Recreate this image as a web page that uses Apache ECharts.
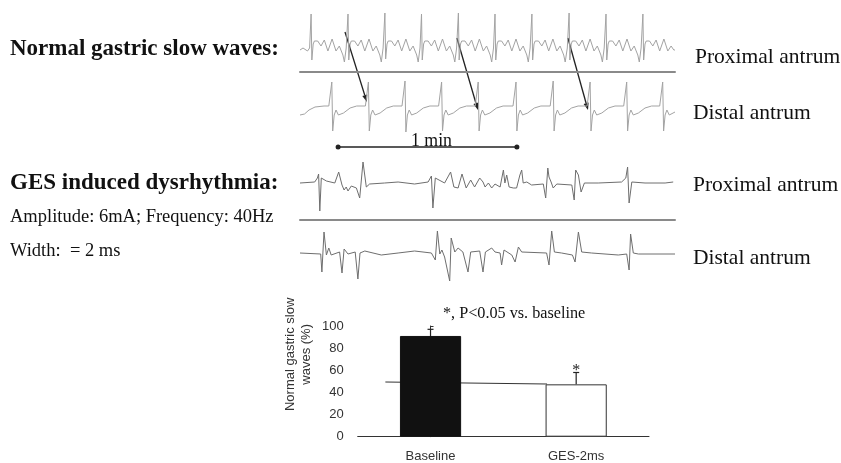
<!DOCTYPE html>
<html>
<head>
<meta charset="utf-8">
<script src="https://cdn.jsdelivr.net/npm/echarts@6/dist/echarts.min.js"></script>
<style>
html,body{margin:0;padding:0;background:#fff;overflow:hidden;}
#chart{width:841px;height:463px;}
</style>
</head>
<body>
<div id="chart"></div>
<script>
// ---------- DATA ----------
// Recordings: [time (s), amplitude (a.u.)]
const normalProximal = [
  [0,-0.5],[1.0,-0.3],[2.5,-0.6],[3.2,-0.3],
  [3.7,3.1],[3.95,-1.5],[4.4,0.1],[4.8,0.4],[5.4,0.2],[5.9,0.4],[7.0,-0.1],[8.1,0.5],[9.3,-0.6],[10.7,0.6],[12.0,-0.6],[13.1,-0.1],[14.3,-1.0],[14.8,-1.7],[15.4,-0.3],
  [16.0,3.1],[16.25,-1.5],[16.7,0.1],[17.1,0.4],[17.7,0.2],[18.2,0.4],[19.3,-0.1],[20.4,0.5],[21.6,-0.6],[23.0,0.6],[24.3,-0.6],[25.4,-0.1],[26.6,-1.0],[27.1,-1.7],[27.7,-0.3],
  [28.3,3.2],[28.55,-1.4],[29.0,0.1],[29.4,0.4],[30.0,0.2],[30.5,0.4],[31.6,-0.1],[32.7,0.5],[33.9,-0.6],[35.3,0.6],[36.6,-0.6],[37.7,-0.1],[38.9,-1.0],[39.4,-1.7],[40.0,-0.3],
  [40.5,3.1],[40.75,-1.5],[41.2,0.1],[41.6,0.4],[42.2,0.2],[42.7,0.4],[43.8,-0.1],[44.9,0.5],[46.1,-0.6],[47.5,0.6],[48.8,-0.6],[49.9,-0.1],[51.1,-1.0],[51.6,-1.7],[52.2,-0.3],
  [52.8,3.2],[53.05,-1.5],[53.5,0.1],[53.9,0.4],[54.5,0.2],[55.0,0.4],[56.1,-0.1],[57.2,0.5],[58.4,-0.6],[59.8,0.6],[61.1,-0.6],[62.2,-0.1],[63.4,-1.0],[63.9,-1.7],[64.5,-0.3],
  [65.0,3.1],[65.25,-1.5],[65.7,0.1],[66.1,0.4],[66.7,0.2],[67.2,0.4],[68.3,-0.1],[69.4,0.5],[70.6,-0.6],[72.0,0.6],[73.3,-0.6],[74.4,-0.1],[75.6,-1.0],[76.1,-1.7],[76.7,-0.3],
  [77.3,3.1],[77.55,-1.5],[78.0,0.1],[78.4,0.4],[79.0,0.2],[79.5,0.4],[80.6,-0.1],[81.7,0.5],[82.9,-0.6],[84.3,0.6],[85.6,-0.6],[86.7,-0.1],[87.9,-1.0],[88.4,-1.7],[89.1,-0.3],
  [89.7,3.2],[89.95,-1.5],[90.4,0.1],[90.8,0.4],[91.4,0.2],[91.9,0.4],[93.0,-0.1],[94.1,0.5],[95.3,-0.6],[96.7,0.6],[98.0,-0.6],[99.1,-0.1],[100.3,-1.0],[100.8,-1.7],[101.4,-0.3],
  [102.0,3.1],[102.25,-1.5],[102.7,0.1],[103.1,0.4],[103.7,0.2],[104.2,0.4],[105.3,-0.1],[106.4,0.5],[107.6,-0.6],[109.0,0.6],[110.3,-0.6],[111.4,-0.1],[112.6,-1.0],[113.1,-1.7],[113.7,-0.3],
  [114.3,3.1],[114.55,-1.5],[115.0,0.1],[115.4,0.4],[116.0,0.2],[116.5,0.4],[117.6,-0.1],[118.7,0.5],[119.9,-0.6],[121.3,0.6],[122.6,-0.6],[123.7,-0.1],[124.6,-0.5],[125,-0.5]
];
const normalDistal = [
  [0,-0.5],[1.5,-0.4],[3.0,0.0],[5.0,0.3],[8.0,0.4],[9.6,0.4],
  [10.6,2.8],[10.9,-2.1],[11.4,-0.5],[12.0,0.0],[12.8,-0.5],[14.5,-0.3],[16.7,0.2],[18.9,0.4],[21.8,0.4],
  [22.8,2.8],[23.1,-2.1],[23.6,-0.5],[24.2,0.0],[25.0,-0.5],[26.7,-0.3],[28.9,0.2],[31.1,0.4],[34.0,0.4],
  [35.0,2.9],[35.3,-2.2],[35.8,-0.5],[36.4,0.0],[37.2,-0.5],[38.9,-0.3],[41.1,0.2],[43.3,0.4],[46.2,0.4],
  [47.2,2.8],[47.5,-2.1],[48.0,-0.5],[48.6,0.0],[49.4,-0.5],[51.1,-0.3],[53.3,0.2],[55.5,0.4],[58.4,0.4],
  [59.4,2.8],[59.7,-2.1],[60.2,-0.5],[60.8,0.0],[61.6,-0.5],[63.3,-0.3],[65.5,0.2],[67.7,0.4],[71.0,0.4],
  [72.0,2.8],[72.3,-2.1],[72.8,-0.5],[73.4,0.0],[74.2,-0.5],[75.9,-0.3],[78.1,0.2],[80.3,0.4],[83.4,0.4],
  [84.4,2.9],[84.7,-2.1],[85.2,-0.5],[85.8,0.0],[86.6,-0.5],[88.3,-0.3],[90.5,0.2],[92.7,0.4],[95.7,0.4],
  [96.7,2.8],[97.0,-2.1],[97.5,-0.5],[98.1,0.0],[98.9,-0.5],[100.6,-0.3],[102.8,0.2],[105.0,0.4],[107.9,0.4],
  [108.9,2.8],[109.2,-2.1],[109.7,-0.5],[110.3,0.0],[111.1,-0.5],[112.8,-0.3],[115.0,0.2],[117.2,0.4],[119.9,0.4],
  [120.9,2.8],[121.2,-2.1],[121.7,-0.5],[122.3,0.0],[123.1,-0.5],[125,-0.2]
];
const gesProximal = [
  [0,0],[4.9,0.1],[5.8,0.5],[6.2,0.9],[6.6,-2.8],[7.1,0.5],[8.8,0.2],[11.6,0],[12.9,1.1],[14.0,-0.2],[14.7,-0.7],[15.4,-0.4],[16.0,-0.8],[17.1,-0.3],[18.8,-0.5],[19.9,-1.5],[21.0,2.1],[22.1,-0.4],[23.2,-0.1],[28.2,0],[32.7,0.1],[38.2,-0.1],[42.7,0.1],[43.8,0.7],[44.3,-2.5],[45.1,0.5],[48.2,0],[50.2,1.1],[51.3,-0.4],[52.7,-0.5],[54.0,0.9],[55.4,-0.5],[56.9,0.3],[58.2,-0.4],[59.9,0.5],[61.0,0.1],[61.7,-0.4],[62.8,0],[63.9,-0.5],[65.0,-0.1],[66.7,-0.4],[67.8,1.3],[68.3,0],[68.9,0.8],[69.7,-0.4],[71.1,-0.5],[72.2,-0.5],[73.3,0.8],[73.9,1.3],[74.4,0],[75.6,0.1],[77.2,-0.2],[81.1,-0.1],[81.9,-1.5],[82.6,1.5],[83.0,0.6],[83.7,0.1],[84.4,-0.5],[85.6,-0.1],[90.6,-0.2],[91.4,-1.7],[91.9,1.3],[92.8,0.8],[93.7,-0.9],[94.8,0],[99.4,0],[107.2,0.1],[108.6,0.5],[109.2,1.6],[109.7,-2.0],[110.6,0.1],[115.0,0],[121.7,0],[124.4,0.1]
];
const gesDistal = [
  [0,0],[6.9,-0.1],[7.3,-1.9],[8.0,2.1],[8.8,-0.2],[9.6,0.5],[10.4,-0.2],[13.2,0.1],[14.0,-2.0],[14.7,0.4],[16.0,-0.1],[18.4,0.1],[19.3,-2.6],[20.0,0],[21.6,0.2],[27.1,-0.2],[32.7,0],[38.2,0.2],[43.8,0],[45.1,-0.7],[45.8,2.2],[46.6,-0.1],[47.3,0.3],[48.2,-0.4],[49.9,-2.8],[50.4,1.5],[51.6,0.1],[52.7,0.5],[54.3,0.1],[56.0,-1.9],[56.9,0.1],[59.9,0.2],[61.0,-1.9],[61.8,0.1],[63.9,0.5],[65.0,0.1],[66.7,0],[67.2,-1.2],[68.0,0.3],[70.6,-0.2],[71.7,-0.9],[72.8,0.6],[73.9,0.1],[82.2,0],[83.0,-1.2],[83.9,2.2],[84.8,0.1],[87.2,0],[90.8,-0.2],[91.7,-0.9],[92.8,2.1],[93.9,0.1],[97.2,0],[106.1,-0.2],[108.9,-0.1],[109.7,-1.7],[110.2,1.9],[111.1,0],[112.8,-0.1],[125,-0.1]
];
// propagation arrows: start on proximal trace, end on distal trace [time, amplitude]
const arrowFrom = [[15.0,1.3],[52.3,0.7],[89.3,0.7]];
const arrowTo   = [[22.3,0.8],[59.3,0.0],[96.0,0.0]];
// 1 min scale bar (s) and its level on the distal trace
const scaleBar = [12.7, 72.3];
const scaleLevel = -3.7;
const scaleText = '1 min';

const traceLabels = ['Proximal antrum','Distal antrum','Proximal antrum','Distal antrum'];

// Bar chart
const categories = ['Baseline','GES-2ms'];
const normalPct = [91, 47.3];
const errorTop = [97, 58];
const significance = ['', '*'];
const refLineX = [-0.31, 0.80];
const refLineY = [49.4, 47.6];
const yTicks = [0, 20, 40, 60, 80, 100];

// ---------- CHART ----------
const chart = echarts.init(document.getElementById('chart'), null, {renderer:'canvas', width:841, height:463});
const SERIF = '"Liberation Serif", "Times New Roman", serif';
const SANS = '"Liberation Sans", Arial, sans-serif';

function hiddenX(gi, showLine){
  return {type:'value', gridIndex:gi, min:0, max:125, position:'bottom',
    axisLine:{show:!!showLine, onZero:false, lineStyle:{color:'#8a8a8a', width:2}},
    axisTick:{show:false}, axisLabel:{show:false}, splitLine:{show:false}};
}
function hiddenY(gi, mn, mx){
  return {type:'value', gridIndex:gi, min:mn, max:mx, show:false, splitLine:{show:false}};
}
function trace(idx, data, color){
  return {type:'line', xAxisIndex:idx, yAxisIndex:idx, data:data, showSymbol:false, symbol:'none',
    lineStyle:{color:color, width:1}, silent:true, z:2};
}

const barStyles = [
  {color:'#111111', borderColor:'#111111', borderWidth:1},
  {color:'#ffffff', borderColor:'#333333', borderWidth:1}
];

const option = {
  animation:false,
  backgroundColor:'#ffffff',
  grid:[
    {left:300, width:375, top:10, height:62, outerBoundsMode:'none', containLabel:false},
    {left:300, width:375, top:80, height:70, outerBoundsMode:'none', containLabel:false},
    {left:300, width:375, top:160, height:60, outerBoundsMode:'none', containLabel:false},
    {left:300, width:375, top:230, height:53, outerBoundsMode:'none', containLabel:false},
    {left:357.7, width:291.3, top:326, height:110.7, outerBoundsMode:'none', containLabel:false}
  ],
  xAxis:[
    hiddenX(0, true), hiddenX(1, false), hiddenX(2, true), hiddenX(3, false),
    {type:'category', gridIndex:4, data:categories, boundaryGap:true,
      axisLine:{lineStyle:{color:'#333', width:1}},
      axisTick:{inside:true, length:3, alignWithLabel:false, lineStyle:{color:'#333'}},
      axisLabel:{color:'#333', fontSize:13, fontFamily:SANS, margin:13}},
    {type:'value', gridIndex:4, min:-0.5, max:1.5, show:false, splitLine:{show:false}}
  ],
  yAxis:[
    hiddenY(0, -2.7, 3.5), hiddenY(1, -4, 3), hiddenY(2, -3.7, 2.3), hiddenY(3, -3.0, 2.3),
    {type:'value', gridIndex:4, min:yTicks[0], max:yTicks[yTicks.length-1], interval:yTicks[1]-yTicks[0],
      axisLine:{show:true, lineStyle:{color:'#333', width:1}},
      axisTick:{show:true, inside:true, length:3, lineStyle:{color:'#333'}},
      axisLabel:{color:'#333', fontSize:13, fontFamily:SANS, margin:14},
      splitLine:{show:false},
      name:'Normal gastric slow\nwaves (%)', nameLocation:'middle', nameRotate:90, nameGap:43,
      nameTextStyle:{color:'#333', fontSize:13, fontFamily:SANS, lineHeight:16, padding:[0,0,0,54]}}
  ],
  series:[
    trace(0, normalProximal, '#a3a3a3'),
    Object.assign(trace(1, normalDistal, '#a3a3a3'), {
      markLine:{silent:true, symbol:['circle','circle'], symbolSize:5, animation:false,
        lineStyle:{color:'#222', width:1.5, type:'solid'},
        label:{show:true, position:'insideMiddleTop', formatter:scaleText, distance:-3, offset:[4,0],
          color:'#111', fontSize:17.8, fontFamily:SERIF},
        data:[[{coord:[scaleBar[0], scaleLevel]},{coord:[scaleBar[1], scaleLevel]}]]}
    }),
    trace(2, gesProximal, '#6e6e6e'),
    trace(3, gesDistal, '#6e6e6e'),
    {type:'line', xAxisIndex:5, yAxisIndex:4, data:refLineX.map((x,i)=>[x, refLineY[i]]),
      showSymbol:false, symbol:'none', lineStyle:{color:'#333', width:1}, z:1, silent:true},
    {type:'bar', xAxisIndex:4, yAxisIndex:4, barWidth:'42%', z:3,
      data:normalPct.map((v,i)=>({value:v, itemStyle:barStyles[i]}))},
    {type:'custom', xAxisIndex:4, yAxisIndex:4, z:4,
      data:normalPct.map((v,i)=>[i, v, errorTop[i]]),
      renderItem:function(params, api){
        const i = api.value(0);
        const p1 = api.coord([i, api.value(1)]);
        const p2 = api.coord([i, api.value(2)]);
        const st = {stroke:'#222', lineWidth:1.2};
        const children = [
          {type:'line', shape:{x1:p1[0], y1:p1[1], x2:p2[0], y2:p2[1]}, style:st},
          {type:'line', shape:{x1:p2[0]-3, y1:p2[1], x2:p2[0]+3, y2:p2[1]}, style:st}
        ];
        const s = significance[params.dataIndex];
        if (s) {
          children.push({type:'text', x:p2[0], y:p2[1]-2,
            style:{text:s, textAlign:'center', textVerticalAlign:'middle',
              font:'16px ' + SERIF, fill:'#222'}});
        }
        return {type:'group', children:children};
      }}
  ]
};
chart.setOption(option);

// ---------- annotations (text + propagation arrows) ----------
function txt(str, x, y, font){
  return {type:'text', x:x, y:y, silent:true,
    style:{text:str, textAlign:'left', textVerticalAlign:'middle', font:font, fill:'#111'}};
}
const elements = [
  txt('Normal gastric slow waves:', 10, 49, 'bold 23px ' + SERIF),
  txt('GES induced dysrhythmia:', 10, 183, 'bold 23px ' + SERIF),
  txt('Amplitude: 6mA; Frequency: 40Hz', 10, 217.5, '18.5px ' + SERIF),
  txt('Width:  = 2 ms', 10, 251, '18.5px ' + SERIF),
  txt(traceLabels[0], 695, 57, '21.5px ' + SERIF),
  txt(traceLabels[1], 693, 113.5, '21.5px ' + SERIF),
  txt(traceLabels[2], 693, 185.5, '21.5px ' + SERIF),
  txt(traceLabels[3], 693, 258.5, '21.5px ' + SERIF),
  txt('*, P<0.05 vs. baseline', 443, 314, '16.2px ' + SERIF)
];
arrowFrom.forEach(function(s, i){
  const a = chart.convertToPixel({gridIndex:0}, s);
  const b = chart.convertToPixel({gridIndex:1}, arrowTo[i]);
  const dx = b[0]-a[0], dy = b[1]-a[1];
  const L = Math.sqrt(dx*dx+dy*dy), ux = dx/L, uy = dy/L;
  const hl = 7, hw = 2.6;
  const bx = b[0]-ux*hl, by = b[1]-uy*hl;
  elements.push({type:'line', silent:true, shape:{x1:a[0], y1:a[1], x2:bx, y2:by},
    style:{stroke:'#222', lineWidth:1.3}});
  elements.push({type:'polygon', silent:true,
    shape:{points:[[b[0],b[1]],[bx-uy*hw, by+ux*hw],[bx+uy*hw, by-ux*hw]]},
    style:{fill:'#222'}});
});
chart.setOption({graphic:{elements:elements}});
</script>
</body>
</html>
